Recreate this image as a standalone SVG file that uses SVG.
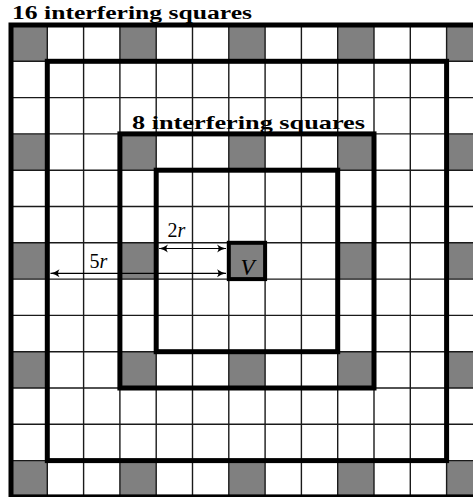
<svg xmlns="http://www.w3.org/2000/svg" width="473" height="497" viewBox="0 0 473 497">
<style>
.g{fill:#808080}
.thin{stroke:#1a1a1a;stroke-width:1.4;fill:none}
.thick{stroke:#000;stroke-width:5;fill:none}
.t{font-family:"Liberation Serif","DejaVu Serif",serif;font-weight:bold;fill:#000}
.m{font-family:"Liberation Serif","DejaVu Serif",serif;fill:#000}
.arr{stroke:#000;stroke-width:1.2;fill:none;marker-start:url(#ah);marker-end:url(#ah)}
</style>
<defs>
<marker id="ah" viewBox="-10 -5 11 10" refX="0" refY="0" markerWidth="11" markerHeight="10" markerUnits="userSpaceOnUse" orient="auto-start-reverse">
<path d="M0,0 Q-5,-1 -9,-4 Q-6,0 -9,4 Q-5,1 0,0 Z" fill="#000"/>
</marker>
</defs>
<rect width="473" height="497" fill="#fff"/>
<g id="gray-cells">
<rect class="g" x="11" y="25" width="36.3" height="36.3"/>
<rect class="g" x="119.9" y="25" width="36.3" height="36.3"/>
<rect class="g" x="228.8" y="25" width="36.3" height="36.3"/>
<rect class="g" x="337.7" y="25" width="36.3" height="36.3"/>
<rect class="g" x="446.6" y="25" width="36.3" height="36.3"/>
<rect class="g" x="11" y="460.6" width="36.3" height="36.3"/>
<rect class="g" x="119.9" y="460.6" width="36.3" height="36.3"/>
<rect class="g" x="228.8" y="460.6" width="36.3" height="36.3"/>
<rect class="g" x="337.7" y="460.6" width="36.3" height="36.3"/>
<rect class="g" x="446.6" y="460.6" width="36.3" height="36.3"/>
<rect class="g" x="11" y="133.9" width="36.3" height="36.3"/>
<rect class="g" x="11" y="242.8" width="36.3" height="36.3"/>
<rect class="g" x="11" y="351.7" width="36.3" height="36.3"/>
<rect class="g" x="446.6" y="133.9" width="36.3" height="36.3"/>
<rect class="g" x="446.6" y="242.8" width="36.3" height="36.3"/>
<rect class="g" x="446.6" y="351.7" width="36.3" height="36.3"/>
<rect class="g" x="119.9" y="133.9" width="36.3" height="36.3"/>
<rect class="g" x="228.8" y="133.9" width="36.3" height="36.3"/>
<rect class="g" x="337.7" y="133.9" width="36.3" height="36.3"/>
<rect class="g" x="119.9" y="242.8" width="36.3" height="36.3"/>
<rect class="g" x="337.7" y="242.8" width="36.3" height="36.3"/>
<rect class="g" x="119.9" y="351.7" width="36.3" height="36.3"/>
<rect class="g" x="228.8" y="351.7" width="36.3" height="36.3"/>
<rect class="g" x="337.7" y="351.7" width="36.3" height="36.3"/>
</g>
<g id="grid">
<path class="thin" d="M47.3,25V497M83.6,25V497M119.9,25V497M156.2,25V497M192.5,25V497M228.8,25V497M265.1,25V497M301.4,25V497M337.7,25V497M374,25V497M410.3,25V497M446.6,25V497M11,61.3H473M11,97.6H473M11,133.9H473M11,170.2H473M11,206.5H473M11,242.8H473M11,279.1H473M11,315.4H473M11,351.7H473M11,388H473M11,424.3H473M11,460.6H473"/>
</g>
<g id="frames">
<rect class="thick" x="11" y="25" width="471.9" height="471.9" stroke-width="5.5"/>
<rect class="thick" x="47.3" y="61.3" width="399.3" height="399.3"/>
<rect class="thick" x="119.9" y="133.9" width="254.1" height="254.1"/>
<rect class="thick" x="156.2" y="170.2" width="181.5" height="181.5"/>
</g>
<g id="V">
<rect x="228.8" y="242.8" width="36.3" height="36.3" fill="#808080" stroke="#000" stroke-width="4"/>
<text class="m" x="247.5" y="275" font-size="23" font-style="italic" text-anchor="middle">V</text>
</g>
<g id="connectors">
<line class="arr" x1="159" y1="248.5" x2="226" y2="248.5"/>
<line class="arr" x1="50.5" y1="273.3" x2="226" y2="273.3"/>
</g>
<g id="labels">
<text class="m" x="167.5" y="237" font-size="20">2<tspan font-style="italic">r</tspan></text>
<text class="m" x="89.5" y="268" font-size="20">5<tspan font-style="italic">r</tspan></text>
<text class="t" x="12" y="19" font-size="18" textLength="240" lengthAdjust="spacingAndGlyphs">16 interfering squares</text>
<text class="t" x="132" y="128.5" font-size="19" textLength="233" lengthAdjust="spacingAndGlyphs">8 interfering squares</text>
</g>
</svg>
